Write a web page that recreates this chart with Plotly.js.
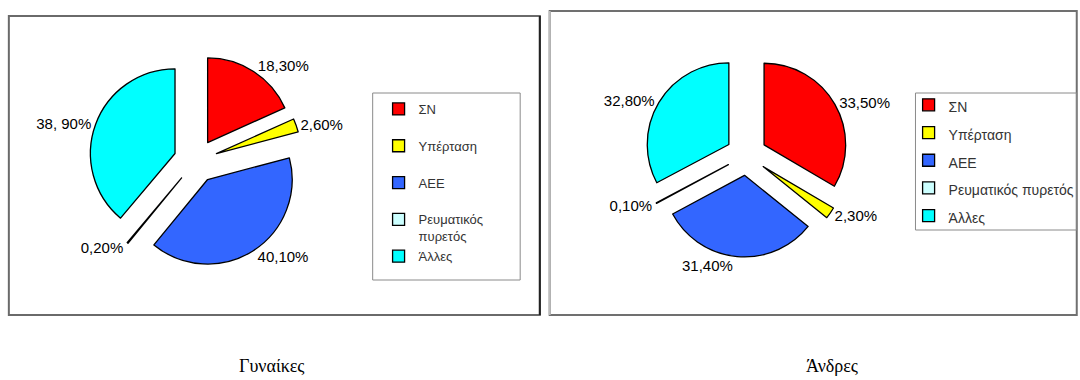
<!DOCTYPE html>
<html>
<head>
<meta charset="utf-8">
<script src="https://cdn.plot.ly/plotly-3.0.1.min.js"></script>
<style>html,body{margin:0;padding:0;background:#fff;}#chart{width:1080px;height:380px;}</style>
</head>
<body>
<div id="chart"></div>
<script>
// ---- data ----
const categories = ["ΣΝ", "Υπέρταση", "ΑΕΕ", "Ρευματικός πυρετός", "Άλλες"];
const leftLegendLabels = ["ΣΝ<br>&nbsp;", "Υπέρταση<br>&nbsp;", "ΑΕΕ<br>&nbsp;", "Ρευματικός<br>πυρετός", "Άλλες<br>&nbsp;"];
const womenValues = [18.3, 2.6, 40.1, 0.2, 38.9];
const menValues = [33.5, 2.3, 31.4, 0.1, 32.8];
const womenText = ["18,30%", "2,60%", "40,10%", "0,20%", "38, 90%"];
const menText = ["33,50%", "2,30%", "31,40%", "0,10%", "32,80%"];
const chartTitles = ["Γυναίκες", "Άνδρες"];
const sliceColors = ["#ff0000", "#ffff00", "#3366ff", "#ccffff", "#00ffff"];

// ---- helpers (pixel -> paper) ----
const W = 1080, H = 380;
const px = v => v / W;
const py = v => 1 - v / H;

const labelFont = {family: "Liberation Sans, Arial, sans-serif", size: 15, color: "#000"};

const womenTrace = {
  type: "pie",
  labels: leftLegendLabels,
  values: womenValues,
  text: womenText,
  textinfo: "text",
  textposition: "outside",
  outsidetextfont: labelFont,
  sort: false,
  direction: "clockwise",
  rotation: 0,
  pull: womenValues.map(() => 0.26),
  marker: {colors: sliceColors, line: {color: "#000", width: 1.3}},
  domain: {x: [px(90.6), px(307.4)], y: [py(269.4), py(52.6)]},
  hoverinfo: "none",
  legend: "legend"
};

const menTrace = {
  type: "pie",
  labels: categories.map(s => '<span style="font-size:14px">' + s + '</span>'),
  values: menValues,
  text: menText,
  textinfo: "text",
  textposition: "outside",
  outsidetextfont: labelFont,
  sort: false,
  direction: "clockwise",
  rotation: 0,
  pull: menValues.map(() => 0.25),
  marker: {colors: sliceColors, line: {color: "#000", width: 1.3}},
  domain: {x: [px(759 - 103.75), px(759 + 103.75)], y: [py(155 + 103.75), py(155 - 103.75)]},
  hoverinfo: "none",
  legend: "legend2"
};

function rect(x0, y0, x1, y1, color, width) {
  return {type: "rect", xref: "paper", yref: "paper", x0: px(x0), x1: px(x1), y0: py(y1), y1: py(y0),
          line: {color: color, width: width}, fillcolor: "rgba(0,0,0,0)", layer: "below"};
}
function line(x0, y0, x1, y1, color, width) {
  return {type: "line", xref: "paper", yref: "paper", x0: px(x0), x1: px(x1), y0: py(y0), y1: py(y1),
          line: {color: color, width: width}, layer: "below"};
}

const titleFont = {family: "Liberation Serif, Times New Roman, serif", size: 18, color: "#000"};

const layout = {
  width: W, height: H,
  margin: {l: 0, r: 0, t: 0, b: 0},
  paper_bgcolor: "#fff",
  plot_bgcolor: "#fff",
  showlegend: true,
  legend: {
    x: px(385), y: py(94), xanchor: "left", yanchor: "top",
    font: {family: "Liberation Sans, Arial, sans-serif", size: 13, color: "#333"},
    valign: "top", bgcolor: "rgba(0,0,0,0)", borderwidth: 0
  },
  legend2: {
    x: px(924), y: py(86), xanchor: "left", yanchor: "top",
    font: {family: "Liberation Sans, Arial, sans-serif", size: 19, color: "#333"},
    bgcolor: "rgba(0,0,0,0)", borderwidth: 0
  },
  shapes: [
    rect(9, 16, 549, 315, "#6a6a6a", 2),
    line(549, 16, 549, 315, "#222", 2),
    rect(559, 11, 1095, 315, "#707070", 2),
    line(559, 11, 559, 315, "#bdbdbd", 2),
    rect(379, 93, 529, 280, "#8a8a8a", 1),
    rect(931, 93, 1095, 230, "#8a8a8a", 1)
  ],
  annotations: [
    {text: chartTitles[0], xref: "paper", yref: "paper", x: px(277), y: py(366),
     xanchor: "center", yanchor: "middle", showarrow: false, font: titleFont},
    {text: chartTitles[1], xref: "paper", yref: "paper", x: px(846), y: py(366),
     xanchor: "center", yanchor: "middle", showarrow: false, font: titleFont}
  ]
};

Plotly.newPlot("chart", [womenTrace, menTrace], layout, {staticPlot: true, displayModeBar: false});
</script>
</body>
</html>
